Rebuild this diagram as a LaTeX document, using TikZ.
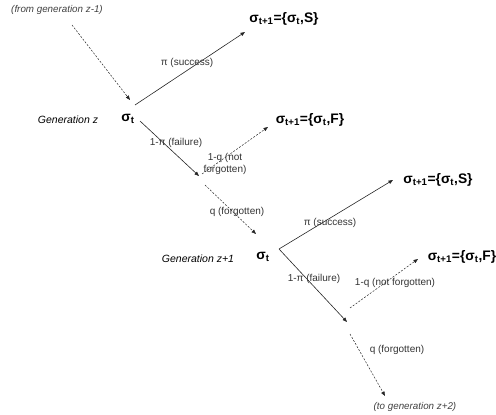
\documentclass[tikz,border=0pt]{standalone}
\usepackage{fontspec}
\setmainfont{Liberation Sans}
\usepackage{tikz}
\usetikzlibrary{arrows.meta, positioning}

\begin{document}
\begin{tikzpicture}[
      x=1pt, y=-1pt,
      state/.style={font=\bfseries\fontsize{13.8}{15}\selectfont, inner sep=1pt},
      prob/.style={font=\fontsize{10}{12}\selectfont, text=black!80, inner sep=0pt, align=center},
      gen/.style={font=\itshape\fontsize{9.8}{11}\selectfont, inner sep=0pt},
      go/.style={-{Triangle[length=4.5pt,width=3.5pt]}, draw=black!85, line width=0.6pt},
      maybe/.style={go, line width=0.5pt, dash pattern=on 2pt off 1.5pt}
    ]
      \useasboundingbox (0,0) rectangle (496,415);

      % generation z
      \node[gen, text=black!75] (from) at (57,10) {(from generation z-1)};
      \coordinate (in1) at (72,25);
      \node[gen, font=\itshape\fontsize{10.5}{12}\selectfont] (genz) at (68,120) {Generation z};
      \node[state] (s1) at (128,119) {σ\textsubscript{t}};
      \node[state] (succ1) at (284,19) {σ\textsubscript{t+1}=\{σ\textsubscript{t},S\}};
      \node[state] (fail1) at (310,120) {σ\textsubscript{t+1}=\{σ\textsubscript{t},F\}};
      \coordinate (b1) at (199,176);

      \draw[maybe] (in1) -- (130,100);
      \draw[go] (135,105) -- (245,32);
      \draw[go] (140,121) -- (b1);
      \draw[maybe] (202,174) -- (268,127);
      \draw[maybe] (205,185) -- (256,234);

      \node[prob] (p1) at (187,63) {π (success)};
      \node[prob] (np1) at (176,143) {1-π (failure)};
      \node[prob] (nq1) at (225,164) {1-q (not\\forgotten)};
      \node[prob] (q1) at (237,212) {q (forgotten)};

      % generation z+1
      \node[gen, font=\itshape\fontsize{10.5}{12}\selectfont] (genz1) at (198,259) {Generation z+1};
      \node[state] (s2) at (263,257) {σ\textsubscript{t}};
      \coordinate (r2) at (279,249);
      \node[state] (succ2) at (438,180) {σ\textsubscript{t+1}=\{σ\textsubscript{t},S\}};
      \node[state] (fail2) at (462,257) {σ\textsubscript{t+1}=\{σ\textsubscript{t},F\}};
      \coordinate (b2) at (347,322);
      \node[gen, text=black!75] (to) at (415,407) {(to generation z+2)};

      \draw[go] (r2) -- (393,180);
      \draw[go] (r2) -- (b2);
      \draw[maybe] (350,308) -- (418,259);
      \draw[maybe] (350,334) -- (385,396);

      \node[prob] (p2) at (330,223) {π (success)};
      \node[prob] (np2) at (314,279) {1-π (failure)};
      \node[prob] (nq2) at (395,283) {1-q (not forgotten)};
      \node[prob] (q2) at (397,350) {q (forgotten)};
    \end{tikzpicture}
\end{document}
